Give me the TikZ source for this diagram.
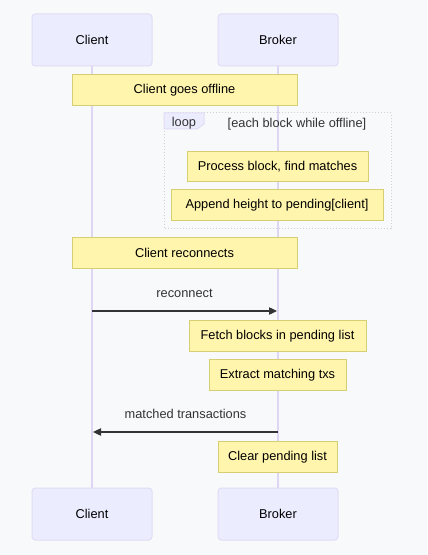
\documentclass[tikz,border=0pt]{standalone}
\usepackage{fontspec}
\setmainfont{Liberation Sans}
\usepackage{tikz}
\usetikzlibrary{arrows.meta}
\definecolor{fondo}{RGB}{248,249,250}
\definecolor{actorfill}{RGB}{236,236,255}
\definecolor{actorline}{RGB}{224,220,245}
\definecolor{vida}{RGB}{222,214,242}
\definecolor{notafill}{RGB}{255,245,173}
\definecolor{notaline}{RGB}{214,206,115}
\definecolor{texto}{RGB}{51,51,51}
\tikzset{
  actor/.style={rectangle, rounded corners=2.5pt, draw=actorline, fill=actorfill,
    line width=0.75pt, minimum width=90pt, minimum height=39pt, font=\fontsize{9.6}{11}\selectfont},
  nota/.style={rectangle, draw=notaline, fill=notafill, line width=0.75pt,
    minimum height=23.25pt, inner sep=0pt, font=\fontsize{9.6}{11}\selectfont},
  vidal/.style={draw=vida, line width=1.1pt},
  mensaje/.style={-{Triangle[length=6pt, width=5.5pt]}, color=texto, line width=0.9pt},
  etiq/.style={font=\fontsize{9.6}{11}\selectfont, color=texto},
  bucle/.style={draw=black!18, line width=0.75pt, dash pattern=on 0.75pt off 1.5pt}
}
\begin{document}
\begin{tikzpicture}[x=0.75pt, y=-0.75pt]
  \useasboundingbox[fill=fondo] (0,0) rectangle (427,555);
  % actores
  \node[actor] (cli) at (92,40) {Client};
  \node[actor] (bro) at (278,40) {Broker};
  \node[actor] (cli2) at (92,514) {Client};
  \node[actor] (bro2) at (278,514) {Broker};
  \draw[vidal] (cli) -- (cli2);
  \draw[vidal] (bro) -- (bro2);
  % bucle
  \draw[bucle] (164,113) rectangle (391,229);
  \draw[draw=actorline, fill=actorfill, line width=0.75pt]
    (164,113) -- (204,113) -- (204,124) -- (197,129) -- (164,129) -- cycle;
  \node[etiq] (lbl) at (184,123) {loop};
  \node[etiq] (cond) at (297,124) {[each block while offline]};
  % notas
  \node[nota, minimum width=168.75pt] (off) at (184.5,90) {Client goes offline};
  \node[nota, minimum width=135.75pt, minimum height=22.5pt] (proc) at (277.5,166.5) {Process block, find matches};
  \node[nota, minimum width=159pt] (app) at (277,205) {Append height to pending[client]};
  \node[nota, minimum width=168.75pt] (rec) at (184.5,253) {Client reconnects};
  \node[nota, minimum width=132.75pt] (fet) at (277.5,336) {Fetch blocks in pending list};
  \node[nota, minimum width=102.75pt] (ext) at (277.5,375) {Extract matching txs};
  \node[nota, minimum width=89.25pt] (clr) at (277.5,457) {Clear pending list};
  % mensajes
  \coordinate (m1a) at (92,311);
  \coordinate (m1b) at (277,311);
  \draw[mensaje] (m1a) -- node[etiq, above=6pt] {reconnect} (m1b);
  \coordinate (m2a) at (278,432);
  \coordinate (m2b) at (93,432);
  \draw[mensaje] (m2a) -- node[etiq, above=6pt] {matched transactions} (m2b);
\end{tikzpicture}
\end{document}
